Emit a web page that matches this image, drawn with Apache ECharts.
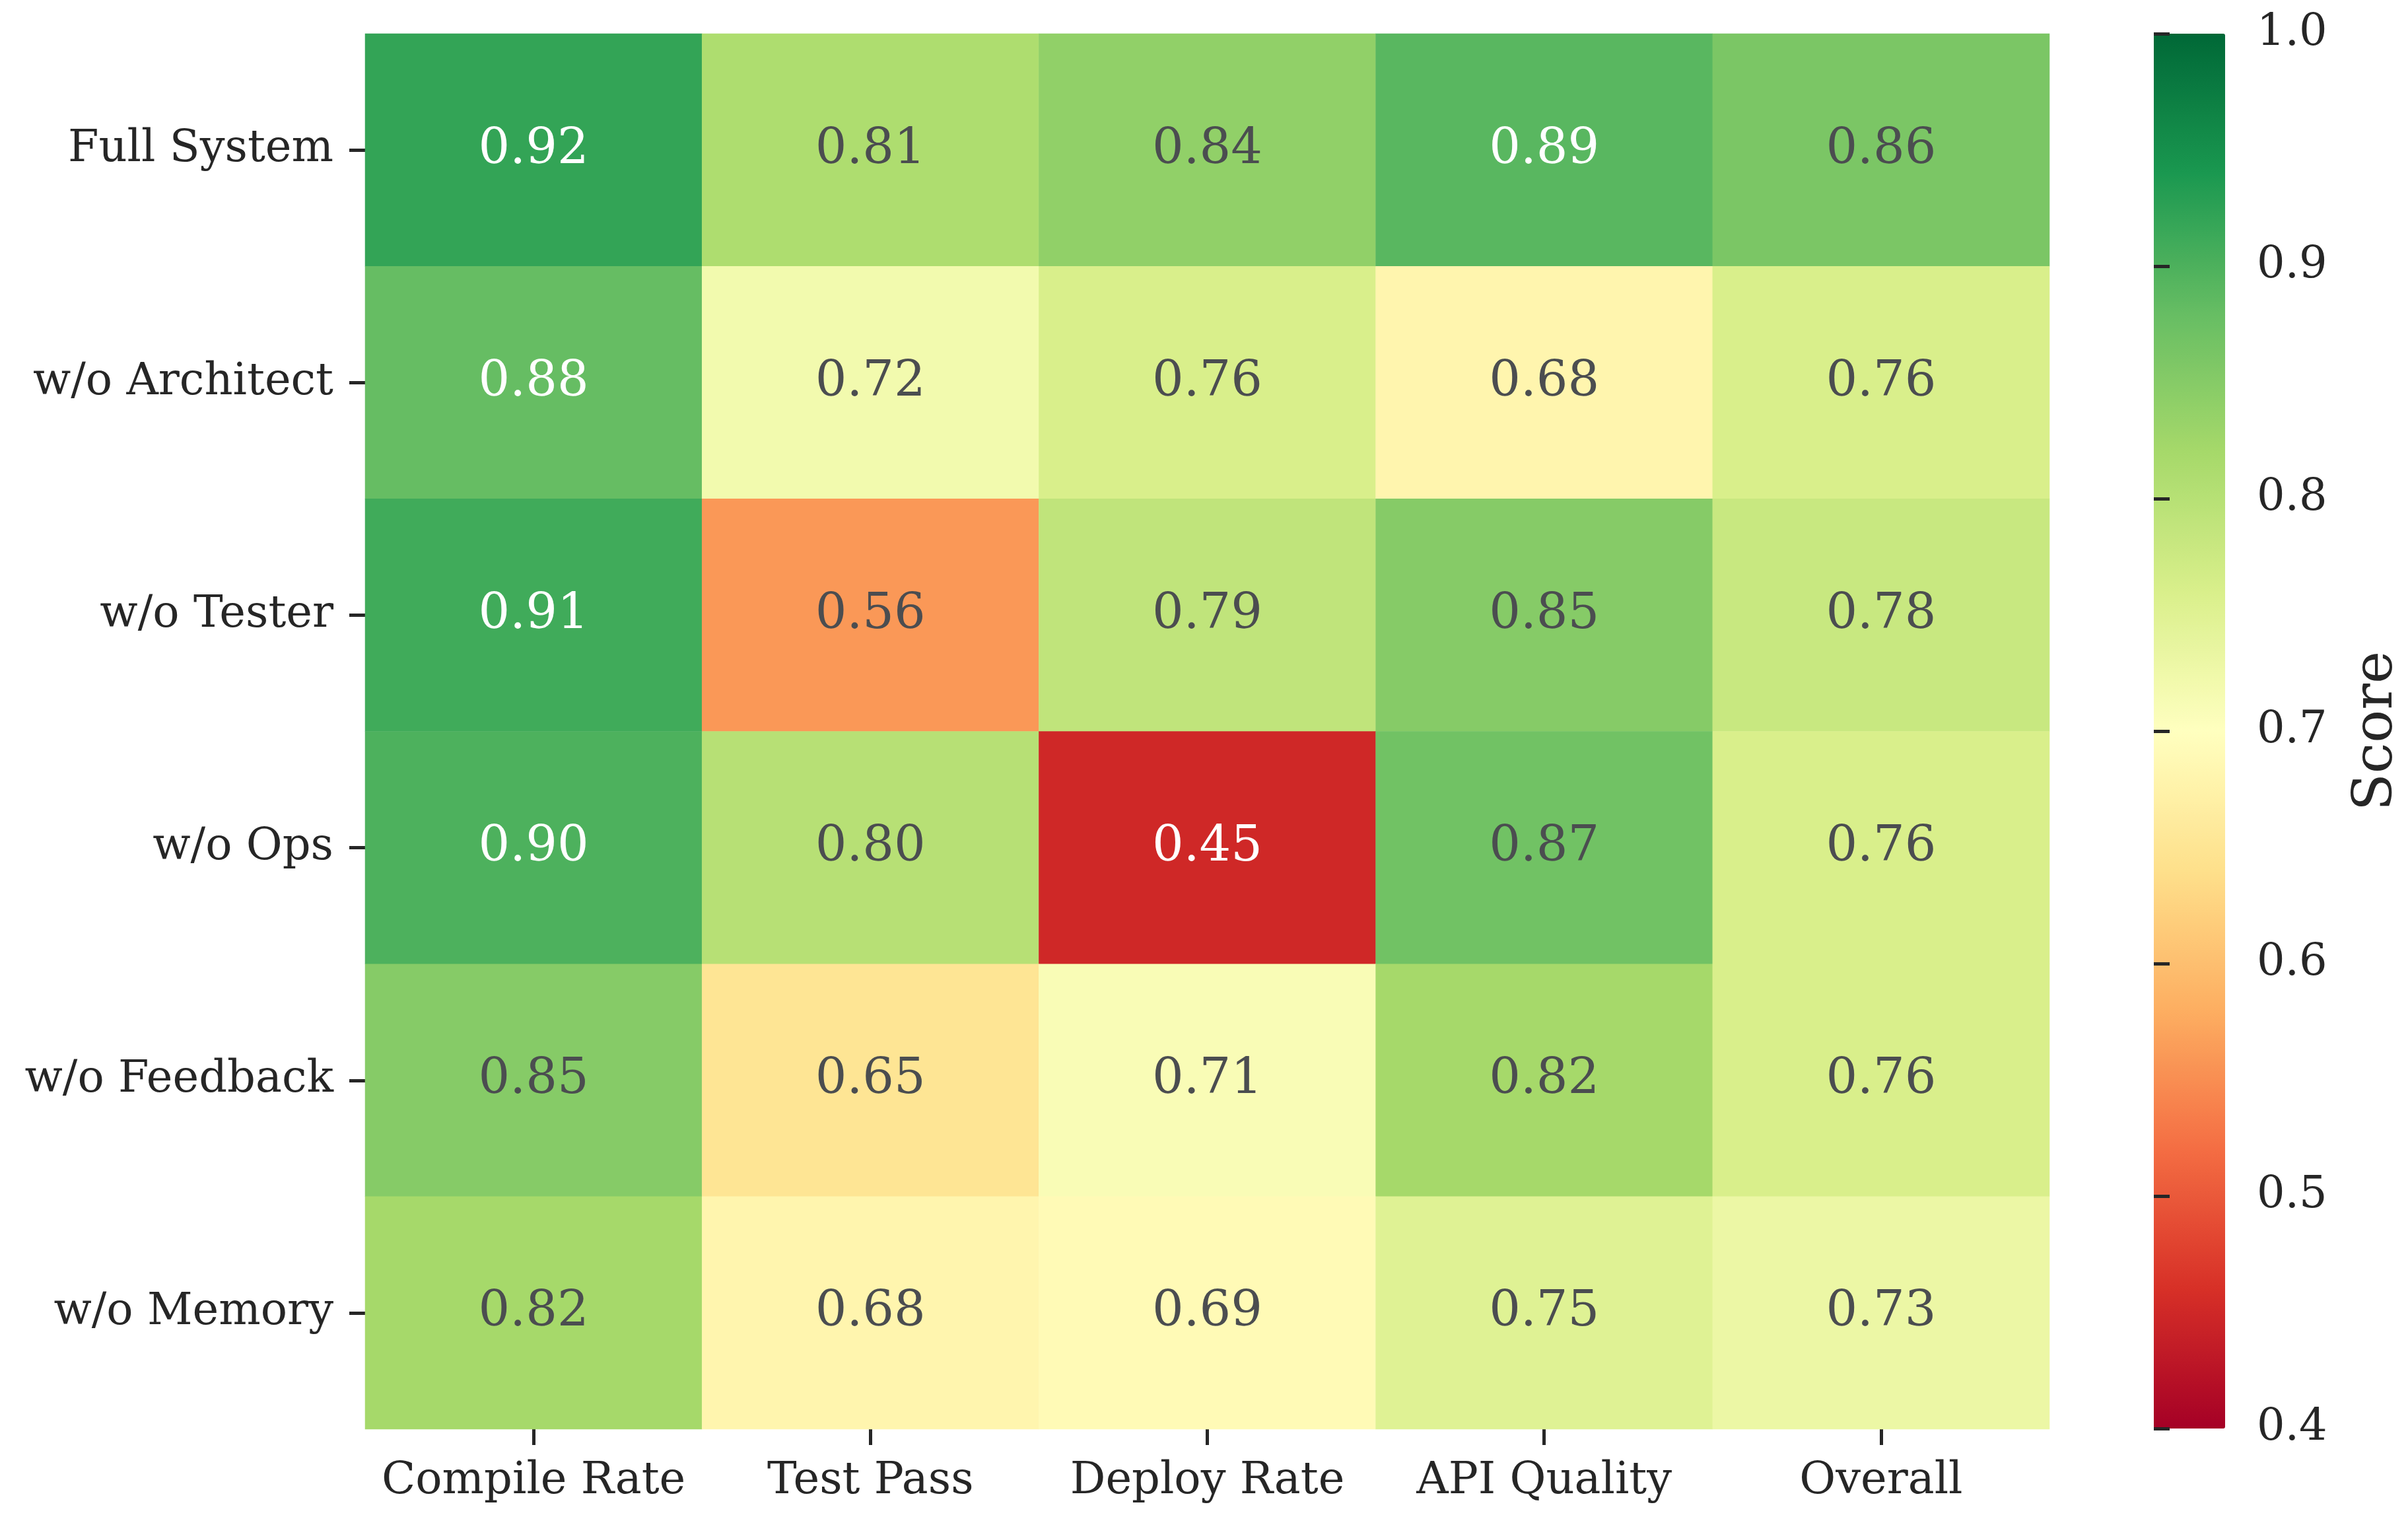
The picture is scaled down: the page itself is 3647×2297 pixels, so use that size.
<!DOCTYPE html>
<html>
<head>
<meta charset="utf-8">
<script src="https://cdn.jsdelivr.net/npm/echarts@6/dist/echarts.min.js"></script>
<style>
html,body{margin:0;padding:0;background:#fff;}
#chart{width:3647px;height:2297px;}
</style>
</head>
<body>
<div id="chart"></div>
<script>
const metrics = ['Compile Rate', 'Test Pass', 'Deploy Rate', 'API Quality', 'Overall'];
const variants = ['Full System', 'w/o Architect', 'w/o Tester', 'w/o Ops', 'w/o Feedback', 'w/o Memory'];
const fullSystem   = [0.92, 0.81, 0.84, 0.89, 0.86];
const woArchitect  = [0.88, 0.72, 0.76, 0.68, 0.76];
const woTester     = [0.91, 0.56, 0.79, 0.85, 0.78];
const woOps        = [0.90, 0.80, 0.45, 0.87, 0.76];
const woFeedback   = [0.85, 0.65, 0.71, 0.82, 0.76];
const woMemory     = [0.82, 0.68, 0.69, 0.75, 0.73];
const colorbarTicks = [0.4, 0.5, 0.6, 0.7, 0.8, 0.9, 1.0];
const scoreMin = 0.4, scoreMax = 1.0;
const rows = [fullSystem, woArchitect, woTester, woOps, woFeedback, woMemory];

const RdYlGn = ['#a50026','#d73027','#f46d43','#fdae61','#fee08b','#ffffbf','#d9ef8b','#a6d96a','#66bd63','#1a9850','#006837'];
const FONT = 'DejaVu Serif';
const TXT = '#262626';

const data = [];
rows.forEach((vals, r) => {
  vals.forEach((v, c) => {
    const light = (v >= 0.88 || v <= 0.5);
    data.push({ value: [c, r, v], label: { color: light ? '#ffffff' : '#4b4d50' } });
  });
});

const chart = echarts.init(document.getElementById('chart'), null, { renderer: 'canvas' });
chart.setOption({
  backgroundColor: '#ffffff',
  animation: false,
  grid: [
    { left: 553, top: 51, width: 2551, height: 2113 },
    { left: 3262, top: 51, width: 108, height: 2112 }
  ],
  xAxis: [
    {
      type: 'category', data: metrics, gridIndex: 0, position: 'bottom',
      axisLine: { show: false },
      axisTick: { show: true, inside: false, alignWithLabel: true, length: 24, lineStyle: { color: TXT, width: 5 } },
      axisLabel: { interval: 0, fontFamily: FONT, fontSize: 67, color: TXT, margin: 46 },
      splitLine: { show: false }
    },
    { type: 'value', gridIndex: 1, show: false, min: 0, max: 1 }
  ],
  yAxis: [
    {
      type: 'category', data: variants, gridIndex: 0, inverse: true,
      axisLine: { show: false },
      axisTick: { show: true, inside: false, alignWithLabel: true, length: 24, lineStyle: { color: TXT, width: 5 } },
      axisLabel: { interval: 0, fontFamily: FONT, fontSize: 67, color: TXT, margin: 48 },
      splitLine: { show: false }
    },
    {
      type: 'value', gridIndex: 1, position: 'right', min: scoreMin, max: scoreMax, interval: 0.1, z: 10,
      axisLine: { show: false },
      axisTick: { show: true, inside: false, length: 24, lineStyle: { color: TXT, width: 5 } },
      axisLabel: { fontFamily: FONT, fontSize: 67, color: TXT, margin: 48,
        formatter: v => { const t = colorbarTicks.find(x => Math.abs(x - v) < 1e-6); return t === undefined ? '' : t.toFixed(1); } },
      splitLine: { show: false }
    }
  ],
  visualMap: {
    type: 'continuous', min: scoreMin, max: scoreMax, seriesIndex: 0,
    calculable: false, hoverLink: false, orient: 'vertical',
    left: 3262, top: 51, itemWidth: 108, itemHeight: 2112, padding: 0,
    text: null, showLabel: false,
    inRange: { color: RdYlGn }
  },
  graphic: [{
    type: 'text', x: 3600, y: 1107, rotation: Math.PI / 2,
    style: { text: 'Score', fontFamily: FONT, fontSize: 83, fill: TXT, align: 'center', verticalAlign: 'middle' }
  }],
  series: [{
    type: 'heatmap', xAxisIndex: 0, yAxisIndex: 0, data: data,
    itemStyle: { borderWidth: 0 },
    label: { show: true, fontFamily: FONT, fontSize: 75, formatter: p => p.value[2].toFixed(2) },
    emphasis: { disabled: true }
  }]
});
</script>
</body>
</html>
